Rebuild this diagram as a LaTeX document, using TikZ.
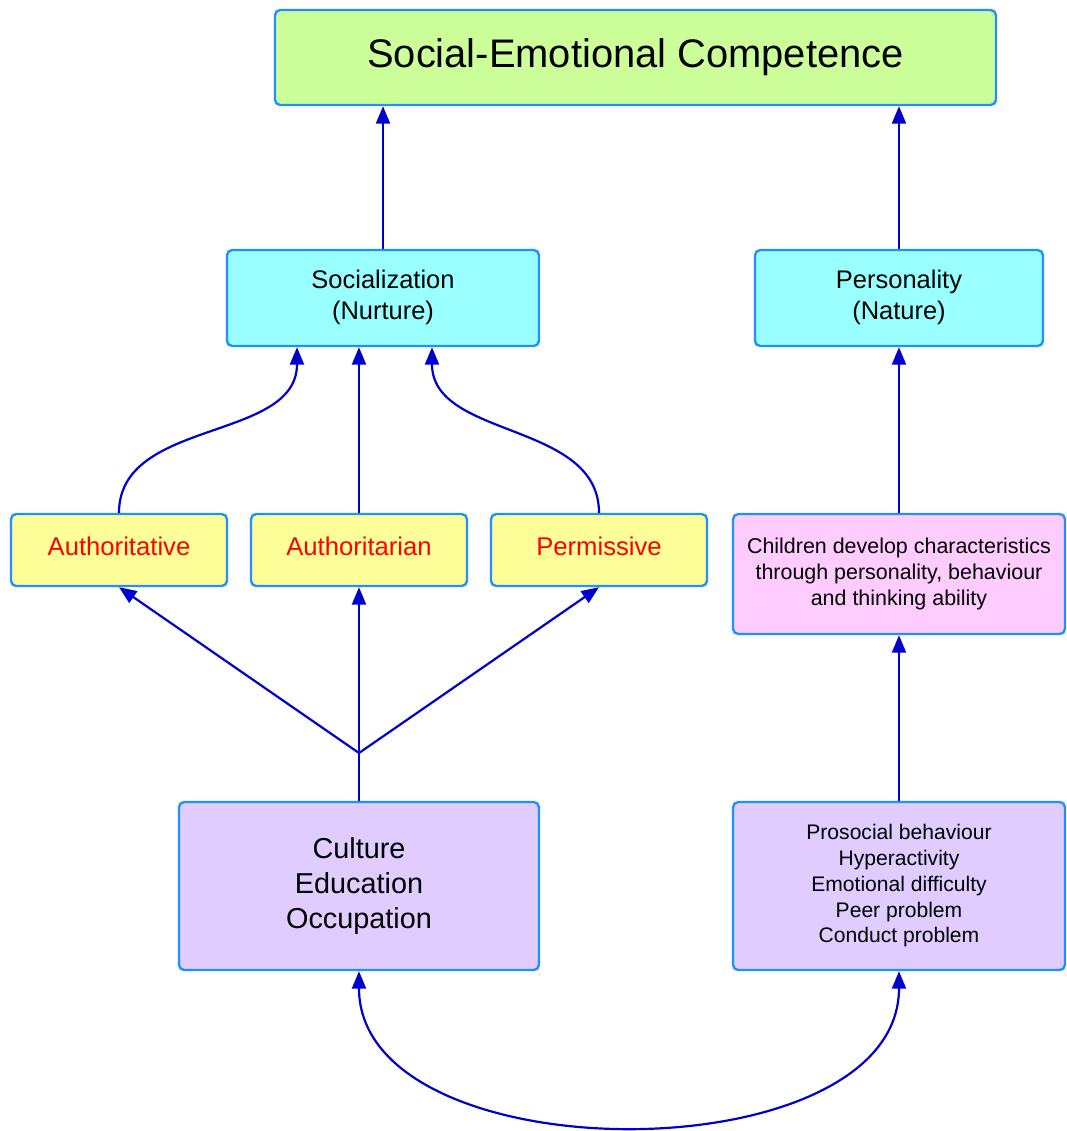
\documentclass[tikz,border=0pt]{standalone}
\usepackage{fontspec}
\setmainfont{Liberation Sans}
\usepackage{tikz}
\usetikzlibrary{positioning,arrows.meta,calc}
\definecolor{edgeblue}{RGB}{30,144,255}
\definecolor{arrowblue}{RGB}{0,0,204}
\definecolor{limefill}{RGB}{204,255,153}
\definecolor{cyanfill}{RGB}{153,255,255}
\definecolor{lemonfill}{RGB}{255,255,153}
\definecolor{pinkfill}{RGB}{255,204,255}
\definecolor{lilacfill}{RGB}{224,204,255}
\tikzset{
  box/.style={draw=edgeblue, line width=1.35pt, rounded corners=3pt, fill=#1, align=center, inner sep=0pt},
  box/.default={white},
  style/.style={box=lemonfill, minimum width=4.32cm, minimum height=1.44cm, text=red, font=\fontsize{14.6}{17}\selectfont},
  arrow/.style={-{Triangle[length=0.35cm,width=0.28cm]}, line width=1.25pt, draw=arrowblue},
  biarrow/.style={{Triangle[length=0.35cm,width=0.28cm]}-{Triangle[length=0.35cm,width=0.28cm]}, line width=1.25pt, draw=arrowblue}
}
\begin{document}
\begin{tikzpicture}
  \useasboundingbox (0,0) rectangle (21.32,-22.62);
  \node[box=limefill, minimum width=14.42cm, minimum height=1.9cm, font=\fontsize{22.7}{26}\selectfont] (sec) at (12.71,-1.15) {\raisebox{3pt}{Social-Emotional Competence}};
  \node[box=cyanfill, minimum width=6.24cm, minimum height=1.92cm, font=\fontsize{14.5}{17.6}\selectfont] (soc) at (7.66,-5.96) {\raisebox{2pt}{\begin{tabular}{@{}c@{}}Socialization\\ (Nurture)\end{tabular}}};
  \node[box=cyanfill, minimum width=5.76cm, minimum height=1.92cm, font=\fontsize{14.5}{17.6}\selectfont] (pers) at (17.98,-5.96) {\raisebox{2pt}{\begin{tabular}{@{}c@{}}Personality\\ (Nature)\end{tabular}}};
  \node[style] (authv) at (2.38,-11.0) {\raisebox{4pt}{Authoritative}};
  \node[style] (autht) at (7.18,-11.0) {\raisebox{4pt}{Authoritarian}};
  \node[style] (perm) at (11.98,-11.0) {\raisebox{4pt}{Permissive}};
  \node[box=pinkfill, minimum width=6.64cm, minimum height=2.4cm, font=\fontsize{12.2}{14.8}\selectfont] (child) at (17.98,-11.48) {Children develop characteristics\\ through personality, behaviour\\ and thinking ability};
  \node[box=lilacfill, minimum width=7.2cm, minimum height=3.36cm, font=\fontsize{16.4}{20}\selectfont] (cult) at (7.18,-17.72) {Culture\\ Education\\ Occupation};
  \node[box=lilacfill, minimum width=6.64cm, minimum height=3.36cm, font=\fontsize{12}{14.65}\selectfont] (pros) at (17.98,-17.72) {Prosocial behaviour\\ Hyperactivity\\ Emotional difficulty\\ Peer problem\\ Conduct problem};
  \coordinate (fork) at (7.18,-15.06);
  % upper level
  \draw[arrow] (soc.north) -- (soc.north |- sec.south);
  \draw[arrow] (pers.north) -- (pers.north |- sec.south);
  % parenting styles
  \draw[arrow] (authv.north) to[out=90, in=-90] ([xshift=-1.72cm]soc.south);
  \draw[arrow] (autht.north) -- (autht.north |- soc.south);
  \draw[arrow] (perm.north) to[out=90, in=-90] ([xshift=0.98cm]soc.south);
  \draw[line width=1.25pt, draw=arrowblue] (cult.north) -- (fork);
  \draw[arrow] (fork) -- (authv.south);
  \draw[arrow] (fork) -- (autht.south);
  \draw[arrow] (fork) -- (perm.south);
  % nature side
  \draw[arrow] (child.north) -- (pers.south);
  \draw[arrow] (pros.north) -- (child.south);
  \draw[biarrow] (cult.south) .. controls +(0,-4.1) and +(0,-4.1) .. (pros.south);
\end{tikzpicture}
\end{document}
